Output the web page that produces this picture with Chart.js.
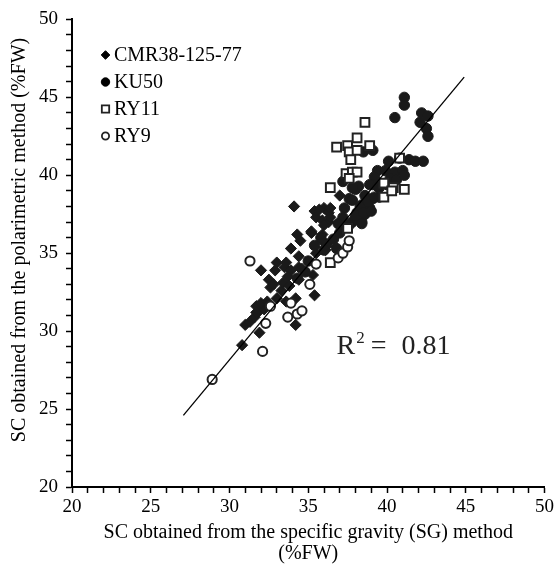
<!DOCTYPE html>
<html><head><meta charset="utf-8">
<script src="https://cdn.jsdelivr.net/npm/chart.js@4.4.1/dist/chart.umd.min.js"></script>
<style>html,body{margin:0;padding:0;background:#fff}#wrap{width:557px;height:566px;position:relative}</style>
</head><body><div id="wrap"><canvas id="c"></canvas></div>
<script>
const seriesNames = ['CMR38-125-77', 'KU50', 'RY11', 'RY9'];
const xTitle = ['SC obtained from the specific gravity (SG) method', '(%FW)'];
const yTitle = 'SC obtained from the polarimetric method (%FW)';
const r2Text = '0.81';

const cmrX = [30.8,31.0,31.3,31.6,31.9,32.2,31.7,32.0,32.4,31.9,31.7,34.2,35.4,34.1,35.4,36.0,36.3,35.5,35.9,36.3,36.0,36.4,36.4,37.0,35.7,34.3,35.2,34.5,33.9,34.4,35.5,35.9,36.1,35.2,35.9,33.0,32.0,32.5,32.9,33.5,33.9,34.4,33.7,34.6,32.6,33.3,33.0,33.6,34.2,35.3,33.4,33.8,34.4,32.8,33.6];
const cmrY = [29.1,30.4,30.6,30.9,31.3,31.4,31.6,31.8,31.9,29.9,31.2,30.4,32.3,38.0,37.7,37.9,37.6,37.3,37.1,37.0,36.8,37.9,37.3,38.7,37.8,36.2,36.3,35.8,35.3,34.8,35.0,35.8,35.2,36.4,36.2,34.4,33.9,33.3,33.9,34.1,33.9,34.1,33.5,34.0,32.8,32.6,32.1,31.9,32.1,33.6,33.1,32.9,33.3,33.0,34.4];

const kuX = [41.1,41.1,40.5,42.2,42.6,42.1,42.5,42.6,39.1,38.5,40.1,40.8,41.4,41.8,42.3,39.4,39.9,40.5,41.0,39.2,40.2,40.6,41.1,39.1,39.5,40.0,38.6,39.1,39.5,38.4,38.9,38.1,38.6,37.8,38.4,37.2,37.3,37.6,38.0,38.2,38.9,39.4,37.8,38.3,38.8,39.2,38.0,38.5,39.0,38.4,37.6,35.8,36.2,36.6,37.0,36.8,36.0,37.3,35.4,37.2,36.9,34.3,34.8,35.0,37.8];
const kuY = [45.0,44.5,43.7,44.0,43.8,43.4,43.0,42.5,41.6,41.5,40.9,41.1,41.0,40.9,40.9,40.3,40.3,40.2,40.3,39.9,39.8,39.7,40.0,39.4,39.2,39.4,38.7,38.5,38.6,38.1,37.9,37.6,37.5,37.0,37.0,39.6,37.9,38.5,39.1,39.3,39.4,39.3,38.4,38.0,38.3,38.6,37.4,37.6,37.7,36.9,36.8,36.0,35.6,35.9,36.3,35.3,35.2,36.8,35.5,37.3,36.9,33.4,33.8,34.5,39.2];

const ry11X = [38.6,38.1,36.8,37.5,37.6,38.1,38.9,37.7,37.4,37.8,38.1,37.6,36.4,39.8,40.4,41.1,39.8,40.8,37.5,36.4,40.3];
const ry11Y = [43.4,42.4,41.8,41.9,41.5,41.6,41.9,41.0,40.1,40.2,40.2,39.8,39.2,39.5,39.2,39.1,38.6,41.1,36.6,34.4,39.0];

const ry9X = [28.9,32.1,32.3,32.6,33.7,34.3,34.6,33.9,31.3,35.5,35.1,36.9,37.2,37.5,37.6];
const ry9Y = [26.9,28.7,30.5,31.6,30.9,31.1,31.3,31.8,34.5,34.3,33.0,34.7,35.0,35.4,35.8];

const trendX = [27.07, 44.9];
const trendY = [24.6, 46.3];

const pts = (xs, ys) => xs.map((x, i) => ({x, y: ys[i]}));
const FONT = '"Liberation Serif", "Times New Roman", serif';

const legendMarks = [
  {style:'rectRot', r:4.3, fill:'#000', stroke:'#000', bw:1},
  {style:'circle', r:4.2, fill:'#000', stroke:'#000', bw:1},
  {style:'rect', r:5.2, fill:'#fff', stroke:'#222', bw:1.8},
  {style:'circle', r:3.6, fill:'#fff', stroke:'#222', bw:1.8}
];

const overlay = {
  id: 'overlay',
  afterDatasetsDraw(chart) {
    const ctx = chart.ctx;
    const xs = chart.scales.x, ys = chart.scales.y;
    ctx.save();
    // legend
    const rowY = [55, 82, 109, 136];
    seriesNames.forEach((name, i) => {
      const m = legendMarks[i];
      ctx.fillStyle = m.fill; ctx.strokeStyle = m.stroke; ctx.lineWidth = m.bw;
      Chart.helpers.drawPoint(ctx, {pointStyle: m.style, radius: m.r, borderWidth: m.bw}, 105.5, rowY[i]);
      ctx.fillStyle = '#000';
      ctx.font = '20px ' + FONT;
      ctx.textBaseline = 'middle';
      ctx.textAlign = 'left';
      ctx.fillText(name, 114, rowY[i] + 1);
    });
    // R^2
    const px = xs.getPixelForValue(36.8), py = ys.getPixelForValue(28.55);
    ctx.fillStyle = '#222';
    ctx.textBaseline = 'alphabetic';
    ctx.font = '28px ' + FONT;
    ctx.fillText('R', px, py);
    const wR = ctx.measureText('R').width;
    ctx.font = '17px ' + FONT;
    ctx.fillText('2', px + wR + 1, py - 11);
    const w2 = ctx.measureText('2').width;
    ctx.font = '28px ' + FONT;
    const eqX = px + wR + w2 + 7;
    ctx.fillText('=', eqX, py);
    const wEq = ctx.measureText('=').width;
    ctx.fillText(r2Text, eqX + wEq + 15, py);
    // y axis title
    ctx.fillStyle = '#000';
    ctx.font = '20px ' + FONT;
    ctx.textAlign = 'center';
    ctx.textBaseline = 'middle';
    ctx.translate(20, 240);
    ctx.rotate(-Math.PI / 2);
    ctx.fillText(yTitle, 0, 0);
    ctx.restore();
  }
};

new Chart(document.getElementById('c'), {
  type: 'scatter',
  data: {
    datasets: [
      {label: 'trend', type:'line', data: pts(trendX, trendY), borderColor:'#000', borderWidth:1.3, pointRadius:0, fill:false, order:0},
      {label: seriesNames[3], data: pts(ry9X, ry9Y), pointStyle:'circle', pointRadius:4.6, backgroundColor:'#fff', borderColor:'#222', borderWidth:2, order:1},
      {label: seriesNames[2], data: pts(ry11X, ry11Y), pointStyle:'rect', pointRadius:6.2, backgroundColor:'#fff', borderColor:'#222', borderWidth:2, order:2},
      {label: seriesNames[1], data: pts(kuX, kuY), pointStyle:'circle', pointRadius:5.2, backgroundColor:'#1a1a1a', borderColor:'#1a1a1a', borderWidth:1, order:3},
      {label: seriesNames[0], data: pts(cmrX, cmrY), pointStyle:'rectRot', pointRadius:5.6, backgroundColor:'#1a1a1a', borderColor:'#1a1a1a', borderWidth:1, order:4}
    ]
  },
  options: {
    responsive: true, maintainAspectRatio: false, animation: false,
    layout: {padding: {top: 18, right: 11, left: 0, bottom: 0}},
    plugins: {legend: {display: false}, tooltip: {enabled: false}},
    scales: {
      x: {
        type: 'linear', min: 20, max: 50,
        afterFit: s => { s.height = 79; },
        ticks: {stepSize: 1, autoSkip: false, maxRotation: 0, padding: 3, color: '#000',
          font: {family: FONT, size: 19},
          callback: v => (v % 5 === 0 ? String(v) : '')},
        grid: {drawOnChartArea: false, drawTicks: true, tickLength: 6, tickColor: '#000', tickWidth: 1.5},
        border: {color: '#000', width: 2},
        title: {display: true, text: xTitle, color: '#000', font: {family: FONT, size: 20, lineHeight: 1.05}, padding: {top: 0, bottom: 1.5}}
      },
      y: {
        type: 'linear', min: 20, max: 50,
        afterFit: s => { s.width = 72; },
        ticks: {stepSize: 1, autoSkip: false, padding: 8, color: '#000',
          font: {family: FONT, size: 19},
          callback: v => (v % 5 === 0 ? String(v) : '')},
        grid: {drawOnChartArea: false, drawTicks: true, tickLength: 6, tickColor: '#000', tickWidth: 1.5},
        border: {color: '#000', width: 2},
        title: {display: false}
      }
    }
  },
  plugins: [overlay]
});
</script></body></html>
